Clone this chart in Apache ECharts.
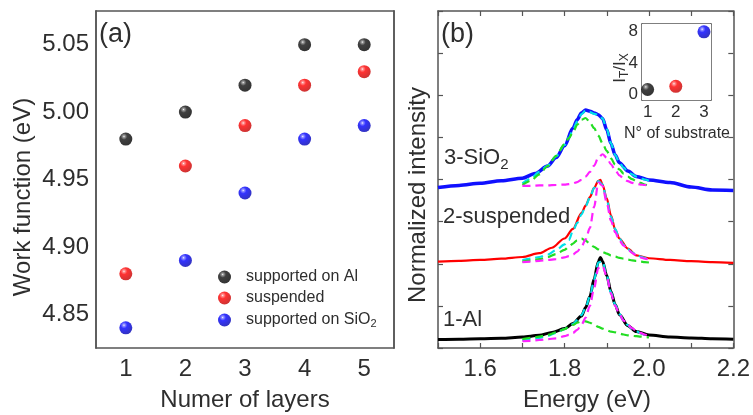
<!DOCTYPE html>
<html><head><meta charset="utf-8">
<script src="https://cdn.jsdelivr.net/npm/echarts@6/dist/echarts.min.js"></script>
<style>html,body{margin:0;padding:0;background:#fff}#c{width:753px;height:415px}</style>
</head><body><div id="c"></div>
<script>
// ---------- Panel (a) data ----------
const layers = ['1','2','3','4','5'];
const wfAl = [4.98, 5.00, 5.02, 5.05, 5.05];
const wfSus = [4.88, 4.96, 4.99, 5.02, 5.03];
const wfSiO2 = [4.84, 4.89, 4.94, 4.98, 4.99];
const wfTicks = [4.85, 4.90, 4.95, 5.00, 5.05];

// ---------- Panel (b) data: measured spectra ----------
const energyAl = [1.50,1.55,1.60,1.65,1.70,1.74,1.77,1.80,1.82,1.84,1.85,1.86,1.87,1.88,1.885,1.89,1.90,1.91,1.92,1.93,1.95,1.97,2.00,2.05,2.10,2.15,2.20];
const intAl    = [0.20,0.21,0.22,0.23,0.26,0.30,0.37,0.46,0.58,0.76,0.96,1.22,1.64,2.05,2.15,2.06,1.72,1.34,1.03,0.79,0.53,0.39,0.31,0.26,0.24,0.22,0.21];
const energySus = [1.50,1.55,1.60,1.65,1.70,1.74,1.77,1.80,1.82,1.84,1.85,1.86,1.87,1.88,1.885,1.89,1.90,1.91,1.92,1.93,1.95,1.97,2.00,2.05,2.10,2.15,2.20];
const intSus    = [2.05,2.07,2.09,2.12,2.16,2.25,2.38,2.60,2.83,3.20,3.38,3.58,3.80,3.97,3.99,3.88,3.55,3.15,2.81,2.60,2.36,2.20,2.13,2.09,2.06,2.04,2.02];
const energySi = [1.50,1.55,1.60,1.65,1.70,1.73,1.76,1.78,1.80,1.82,1.83,1.84,1.85,1.86,1.87,1.88,1.89,1.90,1.91,1.92,1.93,1.95,1.97,2.00,2.05,2.10,2.15,2.20];
const intSi    = [3.81,3.86,3.91,3.97,4.03,4.14,4.32,4.52,4.80,5.22,5.42,5.58,5.65,5.62,5.58,5.54,5.45,5.18,4.85,4.58,4.40,4.20,4.07,3.99,3.93,3.82,3.75,3.74];

// ---------- Panel (b) data: fit components ----------
const fitEnergy = [1.70,1.72,1.74,1.76,1.78,1.80,1.81,1.82,1.83,1.84,1.85,1.86,1.87,1.88,1.89,1.90,1.91,1.92,1.93,1.94,1.95,1.96,1.97,1.98,1.99,2.00];
const fitAlLow  = [0.21,0.24,0.27,0.31,0.37,0.45,0.50,0.55,0.60,0.63,0.63,0.60,0.55,0.50,0.46,0.42,0.39,0.37,0.34,0.32,0.30,0.29,0.28,0.27,0.26,0.25];
const fitAlHigh = [0.16,0.17,0.19,0.21,0.23,0.28,0.31,0.36,0.43,0.55,0.72,1.00,1.42,1.90,1.95,1.70,1.30,1.00,0.80,0.65,0.55,0.47,0.41,0.36,0.32,0.29];
const fitAlSum  = [0.19,0.21,0.24,0.29,0.36,0.45,0.51,0.57,0.66,0.78,0.96,1.22,1.62,2.03,2.06,1.72,1.32,1.03,0.81,0.65,0.54,0.46,0.40,0.35,0.31,0.28];
const fitSusLow  = [2.05,2.08,2.11,2.16,2.23,2.33,2.40,2.48,2.56,2.60,2.55,2.47,2.40,2.34,2.28,2.24,2.20,2.17,2.14,2.12,2.10,2.08,2.07,2.05,2.04,2.03];
const fitSusHigh = [2.04,2.05,2.07,2.09,2.11,2.15,2.18,2.22,2.29,2.40,2.58,2.85,3.35,3.93,3.85,3.45,3.02,2.75,2.55,2.43,2.34,2.26,2.20,2.15,2.12,2.10];
const fitSusSum  = [2.09,2.12,2.16,2.22,2.32,2.46,2.56,2.78,2.97,3.17,3.37,3.57,3.80,3.96,3.88,3.52,3.12,2.82,2.60,2.45,2.35,2.27,2.21,2.17,2.14,2.12];
const fitSiLow  = [3.87,3.97,4.12,4.32,4.56,4.84,4.98,5.12,5.30,5.42,5.46,5.36,5.22,5.04,4.86,4.68,4.50,4.35,4.24,4.14,4.07,4.01,3.96,3.92,3.88,3.85];
const fitSiHigh = [3.85,3.85,3.86,3.86,3.87,3.88,3.89,3.91,3.94,3.99,4.07,4.18,4.33,4.52,4.60,4.52,4.36,4.22,4.10,4.02,3.96,3.92,3.90,3.88,3.87,3.86];
const fitSiSum  = [3.91,4.02,4.18,4.33,4.55,4.82,4.99,5.18,5.38,5.55,5.64,5.60,5.56,5.54,5.45,5.20,4.86,4.58,4.40,4.28,4.19,4.12,4.07,4.03,4.00,3.97];
const energyTicks = [1.6, 1.8, 2.0, 2.2];

// ---------- Inset data ----------
const substrate = [1, 2, 3];
const ratioTX = [0.6, 1.0, 8.0];
const ratioTicks = [0, 4, 8];

// ---------- styling ----------
const FONT = 'Liberation Sans, Arial, sans-serif';
const TXT = '#2e2e2e';
const AX = '#555';
function sphere(light, base, dark) {
  return new echarts.graphic.RadialGradient(0.36, 0.3, 0.72, [
    {offset: 0, color: '#ffffff'}, {offset: 0.1, color: light},
    {offset: 0.35, color: base}, {offset: 1, color: dark}]);
}
const sBlack = sphere('#888', '#111', '#000');
const sRed = sphere('#ff8080', '#ff0000', '#c00000');
const sBlue = sphere('#8080ff', '#0000ff', '#0000b0');
const insetStyles = [sBlack, sRed, sBlue];

const line = {show: true, onZero: false, lineStyle: {color: AX, width: 1.5}};
const tickStyle = {color: AX, width: 1.2};
const zip = (xs, ys) => xs.map((x, i) => [x, ys[i]]);

const wfMinor = [];
for (let i = 483; i <= 507; i++) if (i % 5 !== 0) wfMinor.push(i / 100);
const eTicksAll = [];
for (let i = 15; i <= 22; i++) eTicksAll.push(i / 10);

function yWF(pos, major) {
  return {gridIndex: 0, type: 'value', position: pos, min: 4.825, max: 5.075,
    axisLine: line, splitLine: {show: false},
    axisTick: {inside: true, length: major ? 6 : 3, lineStyle: tickStyle, customValues: major ? wfTicks : wfMinor},
    axisLabel: (major && pos === 'left') ? {customValues: wfTicks, formatter: v => v.toFixed(2), fontSize: 24, fontFamily: FONT, color: TXT, margin: 7} : {show: false}};
}
function xE(pos) {
  return {gridIndex: 1, type: 'value', position: pos, min: 1.5, max: 2.2,
    axisLine: line, splitLine: {show: false},
    axisTick: {inside: true, length: 5, lineStyle: tickStyle, customValues: eTicksAll},
    axisLabel: pos === 'bottom' ? {customValues: energyTicks, formatter: v => v.toFixed(1), fontSize: 24, fontFamily: FONT, color: TXT, margin: 9} : {show: false}};
}
function yI(pos) {
  return {gridIndex: 1, type: 'value', position: pos, min: 0, max: 8, interval: 1,
    axisLine: line, splitLine: {show: false},
    axisTick: {inside: true, length: 5, lineStyle: tickStyle}, axisLabel: {show: false}};
}
function xIn(pos) {
  return {gridIndex: 2, type: 'value', position: pos, min: 0.8, max: 3.25,
    axisLine: line, splitLine: {show: false},
    axisTick: {inside: true, length: 4, lineStyle: tickStyle, customValues: substrate},
    axisLabel: pos === 'bottom' ? {customValues: substrate, fontSize: 17, fontFamily: FONT, color: TXT, margin: 4} : {show: false}};
}
function yIn(pos) {
  return {gridIndex: 2, type: 'value', position: pos, min: -0.75, max: 9,
    axisLine: line, splitLine: {show: false},
    axisTick: {inside: true, length: 4, lineStyle: tickStyle, customValues: [0, 2, 4, 6, 8]},
    axisLabel: pos === 'left' ? {customValues: ratioTicks, fontSize: 17, fontFamily: FONT, color: TXT, margin: 4} : {show: false}};
}
function spec(xs, ys, color, w) {
  return {type: 'line', xAxisIndex: 2, yAxisIndex: 4, data: zip(xs, ys), showSymbol: false,
    smooth: 0.3, smoothMonotone: 'x', lineStyle: {color: color, width: w}, silent: true, z: 3};
}
function fit(ys, color) {
  return {type: 'line', xAxisIndex: 2, yAxisIndex: 4, data: zip(fitEnergy, ys), showSymbol: false,
    smooth: 0.3, smoothMonotone: 'x', lineStyle: {color: color, width: 2.2, type: [8, 5]}, silent: true, z: 4};
}
const CY = '#00e0e8', GR = '#22dd22', MG = '#ff22ff';

const chart = echarts.init(document.getElementById('c'), null, {renderer: 'canvas'});
chart.setOption({
  animation: false,
  backgroundColor: '#fff',
  grid: [
    {left: 96, top: 11, width: 298, height: 337},
    {left: 438, top: 11, width: 298, height: 337},
    {left: 642, top: 24, width: 69, height: 76, show: true, backgroundColor: '#fff', borderWidth: 0, z: 5}
  ],
  xAxis: [
    {gridIndex: 0, type: 'category', data: layers, position: 'bottom', axisLine: line,
      axisTick: {alignWithLabel: true, inside: true, length: 6, lineStyle: tickStyle},
      axisLabel: {fontSize: 24, fontFamily: FONT, color: TXT, margin: 9}},
    {gridIndex: 0, type: 'category', data: layers, position: 'top', axisLine: line,
      axisTick: {alignWithLabel: true, inside: true, length: 6, lineStyle: tickStyle}, axisLabel: {show: false}},
    xE('bottom'), xE('top'), xIn('bottom'), xIn('top')
  ],
  yAxis: [
    yWF('left', true), yWF('left', false), yWF('right', true), yWF('right', false),
    yI('left'), yI('right'), yIn('left'), yIn('right')
  ],
  legend: {
    orient: 'vertical', left: 213, top: 264, itemWidth: 13, itemHeight: 13, itemGap: 5,
    data: ['supported on Al', 'suspended', 'supported on SiO2'],
    formatter: n => n === 'supported on SiO2' ? '{n|supported on SiO}{s|2}' : '{n|' + n + '}',
    textStyle: {fontSize: 16, fontFamily: FONT, color: TXT, padding: [0, 0, 0, 10],
      rich: {n: {fontSize: 16, fontFamily: FONT, color: TXT, lineHeight: 16},
             s: {fontSize: 11, fontFamily: FONT, color: TXT, padding: [7, 0, 0, 0], lineHeight: 12}}}
  },
  series: [
    {name: 'supported on Al', type: 'scatter', xAxisIndex: 0, yAxisIndex: 0, data: wfAl, symbolSize: 13, itemStyle: {color: sBlack}},
    {name: 'suspended', type: 'scatter', xAxisIndex: 0, yAxisIndex: 0, data: wfSus, symbolSize: 13, itemStyle: {color: sRed}},
    {name: 'supported on SiO2', type: 'scatter', xAxisIndex: 0, yAxisIndex: 0, data: wfSiO2, symbolSize: 13, itemStyle: {color: sBlue}},
    spec(energyAl, intAl, '#000000', 3),
    spec(energySus, intSus, '#ff0000', 2.2),
    spec(energySi, intSi, '#1010ff', 3.5),
    fit(fitAlSum, CY), fit(fitSusSum, CY), fit(fitSiSum, CY),
    fit(fitAlLow, GR), fit(fitSusLow, GR), fit(fitSiLow, GR),
    fit(fitAlHigh, MG), fit(fitSusHigh, MG), fit(fitSiHigh, MG),
    {type: 'scatter', xAxisIndex: 4, yAxisIndex: 6, symbolSize: 13, z: 6,
      data: substrate.map((s, i) => ({value: [s, ratioTX[i]], itemStyle: {color: insetStyles[i]}}))}
  ],
  graphic: [
    {type: 'text', x: 23, y: 197, rotation: Math.PI / 2, style: {text: 'Work function (eV)', font: '24px ' + FONT, fill: TXT, align: 'center', verticalAlign: 'middle'}},
    {type: 'text', x: 245, y: 400, style: {text: 'Numer of layers', font: '24px ' + FONT, fill: TXT, align: 'center', verticalAlign: 'middle'}},
    {type: 'text', x: 418, y: 195, rotation: Math.PI / 2, style: {text: 'Normalized intensity', font: '24px ' + FONT, fill: TXT, align: 'center', verticalAlign: 'middle'}},
    {type: 'text', x: 587, y: 400, style: {text: 'Energy (eV)', font: '24px ' + FONT, fill: TXT, align: 'center', verticalAlign: 'middle'}},
    {type: 'text', x: 99, y: 35, style: {text: '(a)', font: '27px ' + FONT, fill: TXT, align: 'left', verticalAlign: 'middle'}},
    {type: 'text', x: 441, y: 35, style: {text: '(b)', font: '27px ' + FONT, fill: TXT, align: 'left', verticalAlign: 'middle'}},
    {type: 'text', x: 444, y: 158, z: 10, style: {text: '{a|3-SiO}{b|2}', fill: TXT, align: 'left', verticalAlign: 'middle',
      rich: {a: {fontSize: 22, fontFamily: FONT, fill: TXT, lineHeight: 22}, b: {fontSize: 15, fontFamily: FONT, fill: TXT, padding: [14, 0, 0, 0], lineHeight: 22}}}},
    {type: 'text', x: 443, y: 217, z: 10, style: {text: '2-suspended', font: '22px ' + FONT, fill: TXT, align: 'left', verticalAlign: 'middle'}},
    {type: 'text', x: 443, y: 320, z: 10, style: {text: '1-Al', font: '22px ' + FONT, fill: TXT, align: 'left', verticalAlign: 'middle'}},
    {type: 'text', x: 677, y: 134, z: 10, style: {text: 'N° of substrate', font: '16px ' + FONT, fill: TXT, align: 'center', verticalAlign: 'middle'}},
    {type: 'text', x: 620, y: 68, z: 10, rotation: Math.PI / 2, style: {text: '{a|I}{b|T}{a|/I}{b|X}', fill: TXT, align: 'center', verticalAlign: 'middle',
      rich: {a: {fontSize: 17, fontFamily: FONT, fill: TXT, lineHeight: 18}, b: {fontSize: 12, fontFamily: FONT, fill: TXT, padding: [10, 0, 0, 0], lineHeight: 18}}}}
  ]
});
</script></body></html>
